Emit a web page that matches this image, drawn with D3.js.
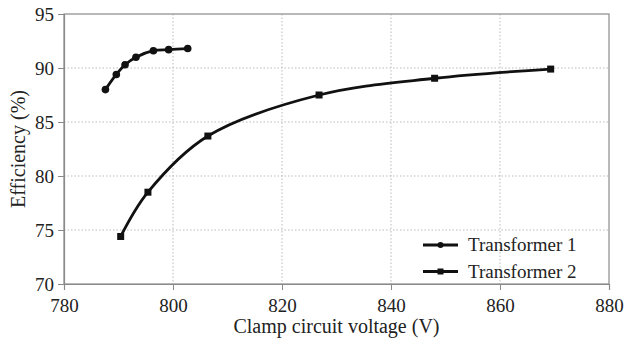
<!DOCTYPE html>
<html>
<head>
<meta charset="UTF-8">
<title>Efficiency vs clamp circuit voltage</title>
<script src="https://cdn.jsdelivr.net/npm/d3@7"></script>
<style>
  body { margin: 0; background: #fff; }
</style>
</head>
<body>
<div id="chart"></div>
<script>
var w = 624,
    h = 343,
    margin = { top: 14, right: 15, bottom: 59, left: 64 },
    font = '"Liberation Serif"',
    fs = 19;

// data
var t1Voltage = [787.6, 789.6, 791.2, 793.2, 796.4, 799.2, 802.7];
var t1Eff     = [88.0, 89.4, 90.3, 91.0, 91.6, 91.7, 91.8];
var t2Voltage = [790.4, 795.4, 806.4, 826.8, 848.0, 869.3];
var t2Eff     = [74.4, 78.5, 83.7, 87.5, 89.05, 89.9];
var xTicks = [780, 800, 820, 840, 860, 880];
var yTicks = [70, 75, 80, 85, 90, 95];
var seriesNames = ["Transformer 1", "Transformer 2"];

var series = [
  { name: seriesNames[0], marker: "circle", pts: t1Voltage.map((v, i) => [v, t1Eff[i]]) },
  { name: seriesNames[1], marker: "square", pts: t2Voltage.map((v, i) => [v, t2Eff[i]]) }
];

var iw = w - margin.left - margin.right,
    ih = h - margin.top - margin.bottom;

var x = d3.scaleLinear().domain([780, 880]).range([0, iw]);
var y = d3.scaleLinear().domain([70, 95]).range([ih, 0]);

var svg = d3.select("#chart").append("svg")
    .attr("width", w)
    .attr("height", h);

var g = svg.append("g").attr("transform", `translate(${margin.left},${margin.top})`);

// grid
g.selectAll(".vgrid").data(xTicks.slice(1, -1)).enter().append("line")
    .attr("x1", d => x(d)).attr("x2", d => x(d))
    .attr("y1", 0).attr("y2", ih)
    .attr("stroke", "#bbb").attr("stroke-dasharray", "1.5,2");
g.selectAll(".hgrid").data(yTicks.slice(1, -1)).enter().append("line")
    .attr("y1", d => y(d)).attr("y2", d => y(d))
    .attr("x1", 0).attr("x2", iw)
    .attr("stroke", "#bbb").attr("stroke-dasharray", "1.5,2");

// frame
g.append("rect").attr("width", iw).attr("height", ih)
    .attr("fill", "none").attr("stroke", "#8a8a8a").attr("stroke-width", 1.2);

var xAxis = g.append("g").attr("transform", `translate(0,${ih})`)
    .call(d3.axisBottom(x).tickValues(xTicks).tickSize(6).tickPadding(9));
var yAxis = g.append("g")
    .call(d3.axisLeft(y).tickValues(yTicks).tickSize(6).tickPadding(4));

[xAxis, yAxis].forEach(a => {
  a.select(".domain").attr("stroke", "#8a8a8a").attr("stroke-width", 1.2);
  a.selectAll(".tick line").attr("stroke", "#8a8a8a");
  a.selectAll("text").attr("font-size", fs).attr("fill", "#222").style("font-family", font);
});

var line = d3.line()
    .x(d => x(d[0]))
    .y(d => y(d[1]))
    .curve(d3.curveCatmullRom.alpha(0.5));

series.forEach(s => {
  g.append("path").datum(s.pts)
      .attr("fill", "none").attr("stroke", "#111").attr("stroke-width", 2.8)
      .attr("d", line);
  if (s.marker === "circle") {
    g.selectAll(null).data(s.pts).enter().append("circle")
        .attr("cx", d => x(d[0])).attr("cy", d => y(d[1]))
        .attr("r", 3.8).attr("fill", "#111");
  } else {
    g.selectAll(null).data(s.pts).enter().append("rect")
        .attr("x", d => x(d[0]) - 3.5).attr("y", d => y(d[1]) - 3.5)
        .attr("width", 7).attr("height", 7).attr("fill", "#111");
  }
});

// legend
var lg = g.append("g").attr("transform", `translate(359,${ih - 39})`);
series.forEach((s, i) => {
  var row = lg.append("g").attr("transform", `translate(0,${i * 26.5})`);
  row.append("line").attr("x1", 0).attr("x2", 35).attr("stroke", "#111").attr("stroke-width", 2.8);
  if (s.marker === "circle") {
    row.append("circle").attr("cx", 17.5).attr("r", 3).attr("fill", "#111");
  } else {
    row.append("rect").attr("x", 14.5).attr("y", -3).attr("width", 6).attr("height", 6).attr("fill", "#111");
  }
  row.append("text").attr("x", 45).attr("dy", "0.33em")
      .attr("font-size", fs).attr("fill", "#222").style("font-family", font).text(s.name);
});

// axis titles
svg.append("text")
    .attr("x", margin.left + iw / 2).attr("y", 333)
    .attr("text-anchor", "middle").attr("font-size", 20).attr("fill", "#222")
    .style("font-family", font)
    .text("Clamp circuit voltage (V)");
svg.append("text")
    .attr("transform", `translate(25,${margin.top + ih / 2}) rotate(-90)`)
    .attr("text-anchor", "middle").attr("font-size", 20).attr("fill", "#222")
    .style("font-family", font)
    .text("Efficiency (%)");
</script>
</body>
</html>
